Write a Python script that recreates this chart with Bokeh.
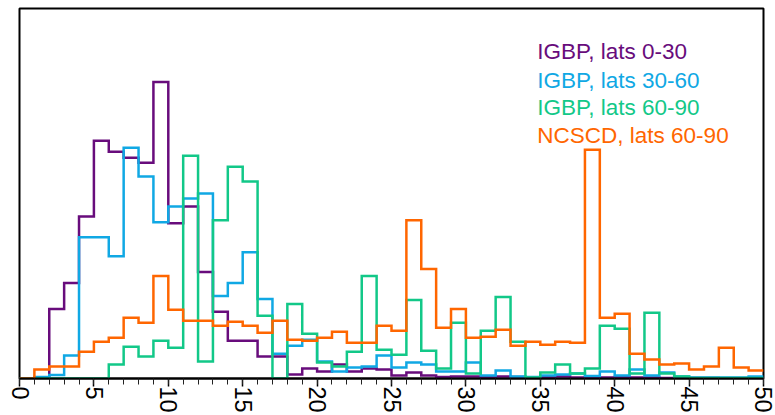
from bokeh.plotting import figure
from bokeh.models import Range1d, SingleIntervalTicker, Label
from bokeh.embed import file_html
from bokeh.resources import INLINE

# ---- data (bin width 1, bins 0..49) ----
bin_edges = list(range(0, 51))

series_names = ["IGBP, lats 0-30", "IGBP, lats 30-60", "IGBP, lats 60-90", "NCSCD, lats 60-90"]

igbp_0_30 = [0, 0, 70, 96, 163, 239, 228, 222, 217, 298,
             156, 173, 107, 67, 38, 38, 22, 22, 4, 10,
             7, 14, 7, 10, 9, 3, 6, 3, 1.5, 2,
             2, 1.5, 2, 1.5, 1, 1.5, 2, 1, 1.5, 1,
             1.5, 1, 1, 0.5, 0.5, 0.5, 0.5, 0.3, 0.3, 0.3]

igbp_30_60 = [0, 1.5, 3.5, 23, 142, 142, 123, 232, 203, 157,
              173, 181, 186, 83, 96, 127, 80, 25, 33, 39,
              17, 7, 11, 12, 23, 11, 16, 14, 7, 7,
              16, 3, 8, 2, 1.5, 3, 4, 5, 2.5, 7,
              3, 9, 3, 6, 2, 1, 1, 1, 1, 2]

igbp_60_90 = [0, 0, 0, 0, 0, 0, 14, 32, 22, 38,
              31, 224, 17, 159, 213, 198, 63, 0, 75, 45,
              16, 12, 27, 103, 29, 24, 79, 28, 10, 56,
              5, 48, 82, 37, 1, 6, 14, 5, 10, 53,
              50, 5, 66, 5, 2, 0.5, 0.5, 0.5, 0.5, 0.5]

ncscd_60_90 = [0, 9, 12, 12, 27, 37, 41, 61, 56, 103,
               69, 58, 58, 53, 57, 53, 46, 58, 39, 38,
               41, 47, 36, 36, 53, 48, 159, 110, 51, 70,
               41, 42, 49, 33, 37, 34, 37, 36, 230, 61,
               65, 25, 19, 14, 15, 9, 12, 31, 11, 8]

series_values = [igbp_0_30, igbp_30_60, igbp_60_90, ncscd_60_90]
series_colors = ["#680c7c", "#10a8e4", "#12c888", "#ff6600"]

x_tick_interval = 5

# ---- figure ----
p = figure(width=775, height=415, output_backend="svg", toolbar_location=None,
           x_range=Range1d(0, 50), y_range=Range1d(0, 372),
           y_axis_location=None,
           min_border_left=19, min_border_right=12, min_border_top=8, min_border_bottom=35)
p.grid.visible = False
p.background_fill_color = "white"
p.border_fill_color = "white"
p.outline_line_color = "black"
p.outline_line_width = 2

for vals, col in zip(series_values, series_colors):
    p.step(x=bin_edges, y=vals + [vals[-1]], mode="after",
           line_color=col, line_width=2.5, line_join="miter")

ax = p.xaxis[0]
ax.ticker = SingleIntervalTicker(interval=x_tick_interval, num_minor_ticks=5)
ax.axis_line_color = "black"
ax.axis_line_width = 2
ax.major_tick_line_color = "black"
ax.major_tick_line_width = 1.5
ax.minor_tick_line_color = "#222222"
ax.minor_tick_line_width = 1
ax.major_tick_in = 0
ax.major_tick_out = 8
ax.minor_tick_in = 0
ax.minor_tick_out = 6
ax.major_label_standoff = 0
ax.major_label_orientation = "vertical"
ax.major_label_text_font = "Liberation Sans"
ax.major_label_text_font_size = "23.5px"
ax.major_label_text_color = "black"
ax.major_label_overrides = {0: "0\u2007", 5: "5\u2007"}

legend_baselines = [328.3, 300.0, 272.3, 244.3]
for name, col, yb in zip(series_names, series_colors, legend_baselines):
    p.add_layout(Label(x=34.8, y=yb, text=name, text_color=col,
                       text_font="Liberation Sans", text_font_size="22.5px",
                       text_align="left", text_baseline="alphabetic"))

open("out.html", "w").write(file_html(p, INLINE))
